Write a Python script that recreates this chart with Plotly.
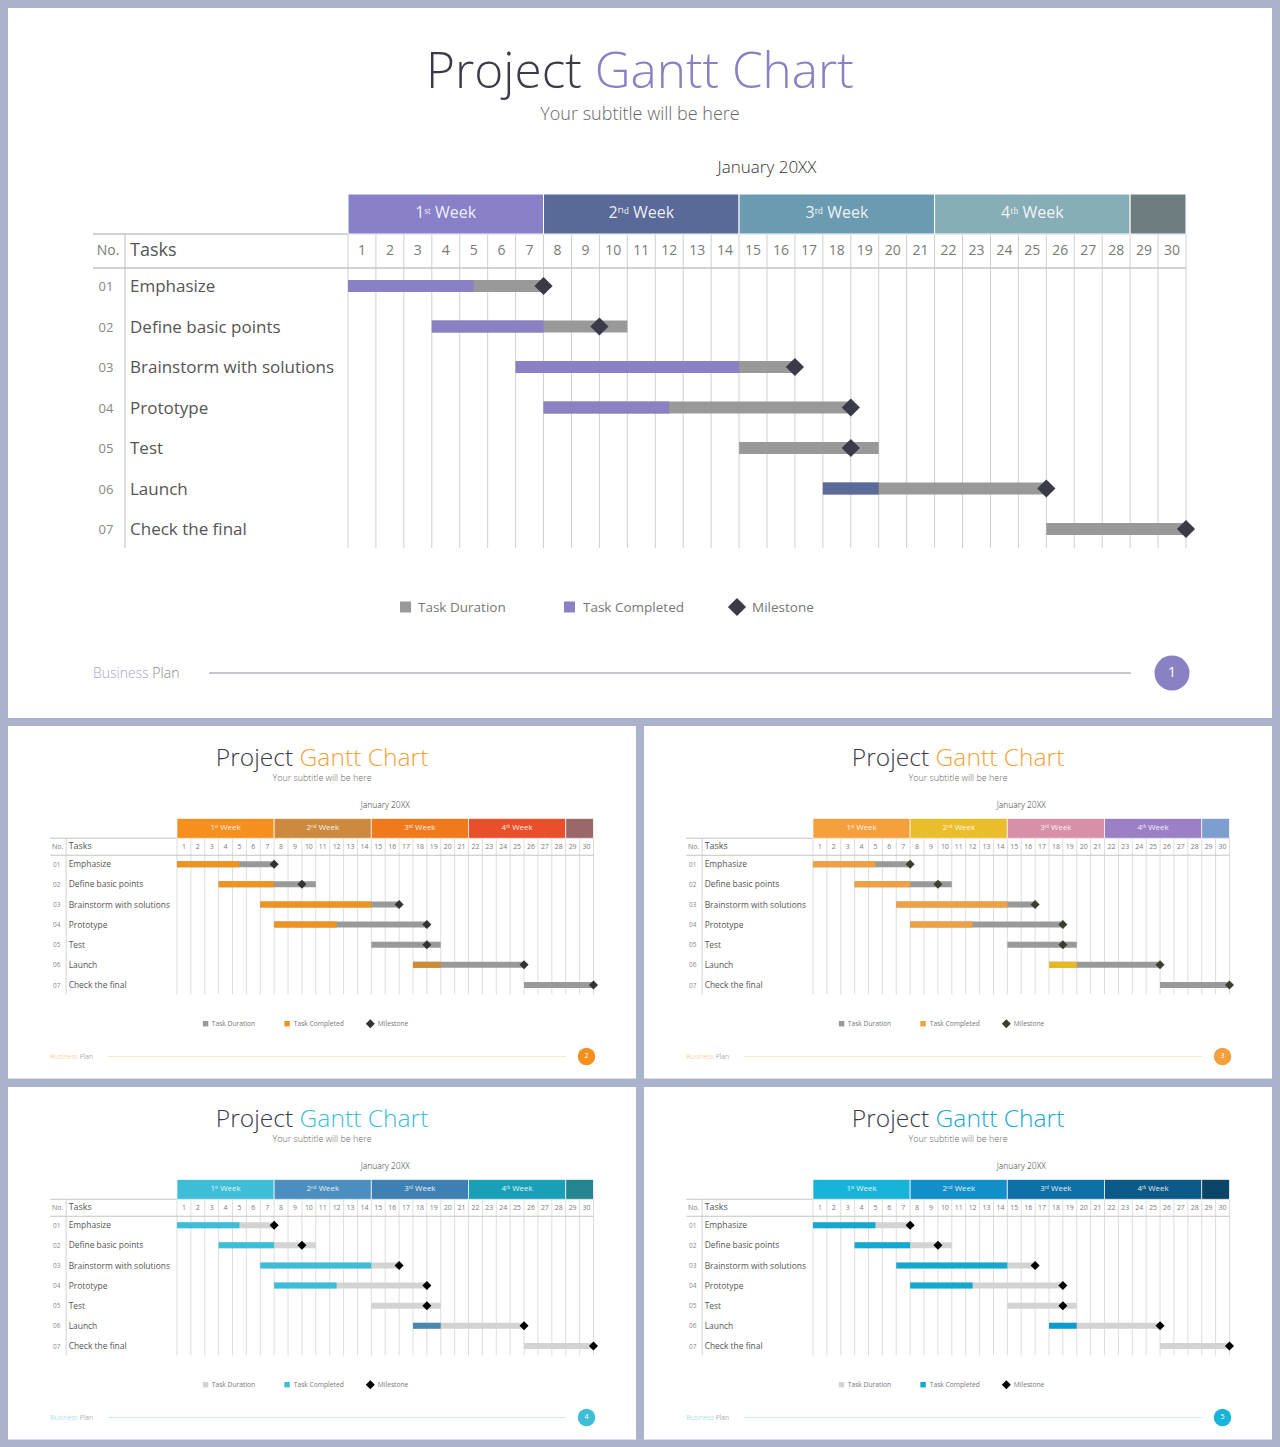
import plotly.graph_objects as go

# ---------------- data ----------------
task_no = ["01", "02", "03", "04", "05", "06", "07"]
tasks = ["Emphasize", "Define basic points", "Brainstorm with solutions", "Prototype",
         "Test", "Launch", "Check the final"]
task_start = [0, 3, 6, 7, 14, 17, 25]
task_done_end = [4.5, 7, 14, 11.5, 14, 19, 25]
task_end = [7, 10, 16, 18, 19, 25, 30]
milestone = [7, 9, 16, 18, 18, 25, 30]
days = list(range(1, 31))
week_labels = ["1ˢᵗ Week", "2ⁿᵈ Week", "3ʳᵈ Week", "4ᵗʰ Week"]
week_start = [0, 7, 14, 21, 28]
week_end = [7, 14, 21, 28, 30]
legend_labels = ["Task Duration", "Task Completed", "Milestone"]
page_numbers = ["1", "2", "3", "4", "5"]

themes = [
    dict(ox=8, oy=8, s=1.0, accent="#8a80c4", circle="#8a80c4", biz="#a8a4d2",
         weeks=["#8880c8", "#5a6a98", "#6b9bb1", "#87adb6", "#6e7e80"],
         comp="#8a80c4", launch="#5b6b97", dur="#999999", ms="#3a3a48", line="#b4b4c2"),
    dict(ox=8, oy=726, s=0.497, accent="#f3a23a", circle="#f5901e", biz="#f5c070",
         weeks=["#f5901e", "#cd8a3e", "#f0791c", "#e84f2a", "#9a6868"],
         comp="#f0921e", launch="#d08a35", dur="#999999", ms="#333333", line="#ece2b4"),
    dict(ox=644, oy=726, s=0.497, accent="#f3a23a", circle="#f5a03c", biz="#f5c070",
         weeks=["#f5a03c", "#ecbd2a", "#d98fa8", "#9b80c6", "#7f9ed0"],
         comp="#f0a040", launch="#e8b820", dur="#999999", ms="#3a4030", line="#ece2b4"),
    dict(ox=8, oy=1087, s=0.497, accent="#3dbdd8", circle="#3dbdd8", biz="#7fd3e6",
         weeks=["#3dbdd8", "#4a8fc0", "#3f80b4", "#1a9fb8", "#258590"],
         comp="#3dbdd8", launch="#4a88b0", dur="#d3d3d3", ms="#000000", line="#b8e4ee"),
    dict(ox=644, oy=1087, s=0.497, accent="#18a8d0", circle="#18b3d8", biz="#7fd3e6",
         weeks=["#18b3d8", "#128fc8", "#0f70a8", "#0c5a88", "#0a4466"],
         comp="#14a8d0", launch="#0e9ccc", dur="#d3d3d3", ms="#000000", line="#b8e4ee"),
]

W, H = 1280, 1447
FONT = "Open Sans"
# main-slide pixel geometry (slide spans 8..1272 x 8..718)
DX0, DX1 = 348, 1186          # day area
LX0 = 93                      # left of table
DW = (DX1 - DX0) / 30.0
ROW0, RH = 286, 40.5


def yrow(py):
    return 1 + (py - ROW0) / RH


def xday(px):
    return (px - DX0) / DW


fig = go.Figure()
shapes = []
layout_axes = {}


def add_text(xa, ya, xs, ys, texts, size, color, pos="middle center", weight=None):
    tf = dict(family=FONT, size=size, color=color)
    if weight:
        tf["weight"] = weight
    fig.add_trace(go.Scatter(x=xs, y=ys, mode="text", text=texts, textposition=pos,
                             textfont=tf, xaxis=xa, yaxis=ya, showlegend=False,
                             hoverinfo="skip", cliponaxis=False))


for k, th in enumerate(themes):
    ox, oy, s = th["ox"], th["oy"], th["s"]

    def XP(px):
        return (ox + s * (px - 8)) / W

    def YP(py):
        return 1 - (oy + s * (py - 8)) / H

    n = "" if k == 0 else str(k + 1)
    xa, ya = "x" + n, "y" + n
    layout_axes["xaxis" + n] = dict(domain=[XP(8), XP(1272)], range=[xday(8), xday(1272)],
                                    visible=False, fixedrange=True, anchor=ya)
    layout_axes["yaxis" + n] = dict(domain=[YP(718), YP(8)], range=[yrow(718), yrow(8)],
                                    visible=False, fixedrange=True, anchor=xa)

    # slide background
    shapes.append(dict(type="rect", xref=xa, yref=ya, layer="below",
                       x0=xday(8), x1=xday(1272), y0=yrow(718), y1=yrow(8),
                       fillcolor="white", line=dict(width=0)))

    lw = 1.0 if s == 1 else 0.7
    grid = "#cfcfcf"
    for d in range(0, 31):
        shapes.append(dict(type="line", xref=xa, yref=ya, layer="below",
                           x0=d, x1=d, y0=yrow(234), y1=yrow(548),
                           line=dict(color=grid, width=lw)))
    for py in (234, 268):
        shapes.append(dict(type="line", xref=xa, yref=ya, layer="below",
                           x0=xday(LX0), x1=30, y0=yrow(py), y1=yrow(py),
                           line=dict(color="#c4c4c4", width=lw * 1.5)))
    shapes.append(dict(type="line", xref=xa, yref=ya, layer="below",
                       x0=xday(125), x1=xday(125), y0=yrow(234), y1=yrow(548),
                       line=dict(color="#bdbdbd", width=lw)))
    for i in range(5):
        shapes.append(dict(type="rect", xref=xa, yref=ya, layer="below",
                           x0=week_start[i], x1=week_end[i], y0=yrow(194), y1=yrow(234),
                           fillcolor=th["weeks"][i], line=dict(color="white", width=lw)))
    # footer line
    shapes.append(dict(type="line", xref=xa, yref=ya, layer="below",
                       x0=xday(209), x1=xday(1131), y0=yrow(673), y1=yrow(673),
                       line=dict(color=th["line"], width=1.5 * s)))

    rows = list(range(1, 8))
    fig.add_trace(go.Bar(orientation="h", y=rows,
                         x=[e - b for b, e in zip(task_start, task_end)], base=task_start,
                         width=0.3, marker=dict(color=th["dur"], line=dict(width=0)),
                         xaxis=xa, yaxis=ya, showlegend=False, name="Task Duration"))
    comp_colors = [th["comp"]] * 7
    comp_colors[5] = th["launch"]
    fig.add_trace(go.Bar(orientation="h", y=rows,
                         x=[e - b for b, e in zip(task_start, task_done_end)], base=task_start,
                         width=0.3, marker=dict(color=comp_colors, line=dict(width=0)),
                         xaxis=xa, yaxis=ya, showlegend=False, name="Task Completed"))
    fig.add_trace(go.Scatter(x=milestone, y=rows, mode="markers",
                             marker=dict(symbol="diamond", size=14 * s, color=th["ms"],
                                         line=dict(width=0)),
                             xaxis=xa, yaxis=ya, showlegend=False, name="Milestone",
                             cliponaxis=False))

    # header / table text
    add_text(xa, ya, [d - 0.5 for d in days], [yrow(251)] * 30, [str(d) for d in days],
             14 * s, "#7a7a7a")
    add_text(xa, ya, [(a + b) / 2 for a, b in zip(week_start[:4], week_end[:4])],
             [yrow(214)] * 4, week_labels, 16 * s, "rgba(255,255,255,0.9)")
    add_text(xa, ya, [xday(108)], [yrow(251)], ["No."], 14 * s, "#7a7a7a")
    add_text(xa, ya, [xday(130)], [yrow(251)], ["Tasks"], 18 * s, "#555555", "middle right")
    add_text(xa, ya, [xday(106)] * 7, [r + 2 / RH for r in rows], task_no, 13 * s, "#888888")
    add_text(xa, ya, [xday(130)] * 7, [r + 2 / RH for r in rows], tasks, 17 * s, "#555555",
             "middle right")

    # titles
    add_text(xa, ya, [xday(640)], [yrow(76)],
             ["Project <span style='color:%s'>Gantt Chart</span>" % th["accent"]],
             49.5 * s, "#3a3a48", weight=300)
    add_text(xa, ya, [xday(640)], [yrow(115)], ["Your subtitle will be here"],
             18 * s, "#666666", weight=300)
    add_text(xa, ya, [xday(767)], [yrow(169)], ["January 20XX"], 17 * s, "#333333", weight=300)

    # legend
    fig.add_trace(go.Scatter(x=[xday(405.5), xday(569.5)], y=[yrow(607)] * 2, mode="markers",
                             marker=dict(symbol="square", size=11 * s,
                                         color=[th["dur"], th["comp"]], line=dict(width=0)),
                             xaxis=xa, yaxis=ya, showlegend=False, hoverinfo="skip",
                             cliponaxis=False))
    fig.add_trace(go.Scatter(x=[xday(737)], y=[yrow(607)], mode="markers",
                             marker=dict(symbol="diamond", size=14 * s, color=th["ms"],
                                         line=dict(width=0)),
                             xaxis=xa, yaxis=ya, showlegend=False, hoverinfo="skip",
                             cliponaxis=False))
    add_text(xa, ya, [xday(418), xday(583), xday(752)], [yrow(609)] * 3, legend_labels,
             13.5 * s, "#777777", "middle right")

    # footer
    add_text(xa, ya, [xday(93)], [yrow(674)],
             ["<span style='color:%s'>Business</span> Plan" % th["biz"]],
             14 * s, "#888888", "middle right", weight=300)
    fig.add_trace(go.Scatter(x=[xday(1172)], y=[yrow(673)], mode="markers+text",
                             text=[page_numbers[k]], textposition="middle center",
                             textfont=dict(family=FONT, size=14 * s, color="white"),
                             marker=dict(symbol="circle", size=35 * s, color=th["circle"],
                                         line=dict(width=0)),
                             xaxis=xa, yaxis=ya, showlegend=False, hoverinfo="skip",
                             cliponaxis=False))

fig.update_layout(width=W, height=H, margin=dict(l=0, r=0, t=0, b=0),
                  paper_bgcolor="#aab2cc", plot_bgcolor="rgba(0,0,0,0)",
                  barmode="overlay", showlegend=False, shapes=shapes,
                  font=dict(family=FONT), **layout_axes)

fig.write_html("out.html", config={"displayModeBar": False},
               post_script="document.body.style.margin='0px';")
